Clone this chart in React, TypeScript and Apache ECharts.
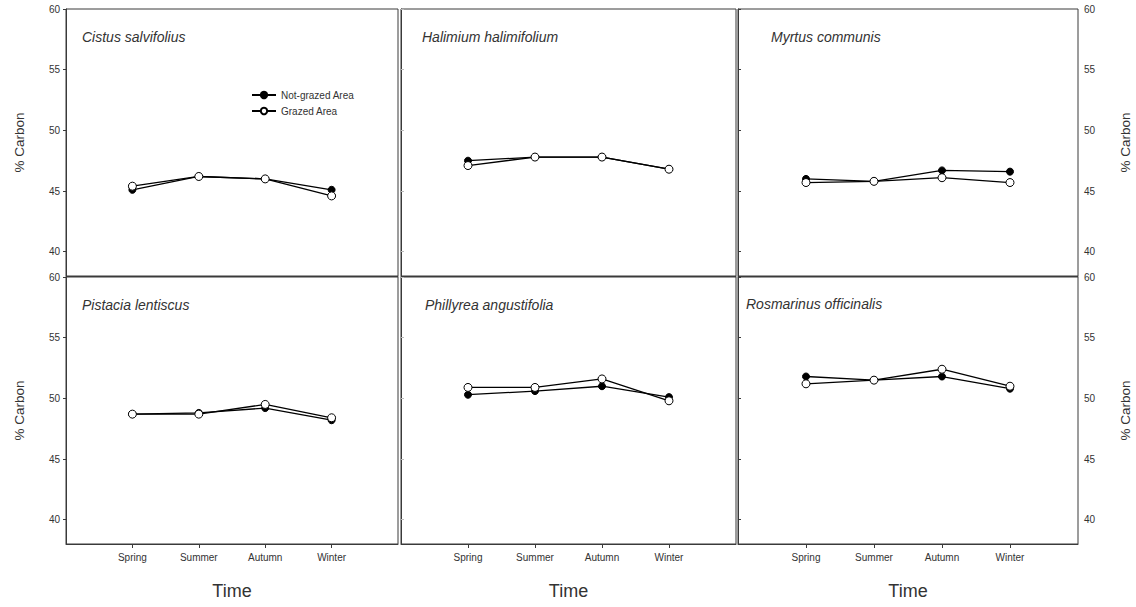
import React, { useEffect, useRef } from "react";
import * as echarts from "echarts";

const seasons = ["Spring", "Summer", "Autumn", "Winter"];
const seasonPos = [1, 2, 3, 4];
const yTicks = [40, 45, 50, 55, 60];

const speciesNames = [
  "Cistus salvifolius",
  "Halimium halimifolium",
  "Myrtus communis",
  "Pistacia lentiscus",
  "Phillyrea angustifolia",
  "Rosmarinus officinalis",
];

const cistusNotGrazed = [45.1, 46.2, 46.0, 45.1];
const cistusGrazed = [45.4, 46.2, 46.0, 44.6];
const halimiumNotGrazed = [47.5, 47.8, 47.8, 46.8];
const halimiumGrazed = [47.1, 47.8, 47.8, 46.8];
const myrtusNotGrazed = [46.0, 45.8, 46.7, 46.6];
const myrtusGrazed = [45.7, 45.8, 46.1, 45.7];
const pistaciaNotGrazed = [48.7, 48.8, 49.2, 48.2];
const pistaciaGrazed = [48.7, 48.7, 49.5, 48.4];
const phillyreaNotGrazed = [50.3, 50.6, 51.0, 50.1];
const phillyreaGrazed = [50.9, 50.9, 51.6, 49.8];
const rosmarinusNotGrazed = [51.8, 51.5, 51.8, 50.8];
const rosmarinusGrazed = [51.2, 51.5, 52.4, 51.0];

const notGrazedSets = [cistusNotGrazed, halimiumNotGrazed, myrtusNotGrazed, pistaciaNotGrazed, phillyreaNotGrazed, rosmarinusNotGrazed];
const grazedSets = [cistusGrazed, halimiumGrazed, myrtusGrazed, pistaciaGrazed, phillyreaGrazed, rosmarinusGrazed];

const FONT = "'Liberation Sans', Arial, sans-serif";
const AXIS_COLOR = "#3a3a3a";
const TEXT_COLOR = "#333";

export default function App() {
  const ref = useRef<HTMLDivElement>(null);

  useEffect(() => {
    if (!ref.current) return;
    const chart = echarts.init(ref.current, undefined, { renderer: "svg" });

    const cols = [
      { left: 66, width: 332 },
      { left: 401, width: 335 },
      { left: 738, width: 340 },
    ];
    const rows = [
      { top: 9, height: 267 },
      { top: 277, height: 267 },
    ];
    const titlePos = [
      { left: 82, top: 30 },
      { left: 422, top: 30 },
      { left: 771, top: 30 },
      { left: 82, top: 298 },
      { left: 425, top: 298 },
      { left: 746, top: 297 },
    ];

    const grids: any[] = [];
    const xAxes: any[] = [];
    const yAxes: any[] = [];
    const series: any[] = [];
    const titles: any[] = [];

    for (let i = 0; i < 6; i++) {
      const r = Math.floor(i / 3);
      const c = i % 3;
      grids.push({
        left: cols[c].left,
        width: cols[c].width,
        top: rows[r].top,
        height: rows[r].height,
        show: true,
        borderColor: AXIS_COLOR,
        borderWidth: 1,
        backgroundColor: "transparent",
      });
      const bottomRow = r === 1;
      xAxes.push({
        type: "value",
        gridIndex: i,
        min: 0,
        max: 5,
        position: "bottom",
        splitLine: { show: false },
        axisLine: { show: true, lineStyle: { color: AXIS_COLOR, width: 1 } },
        axisTick: {
          show: bottomRow,
          customValues: seasonPos,
          length: 4,
          lineStyle: { color: AXIS_COLOR },
        },
        axisLabel: {
          show: bottomRow,
          customValues: seasonPos,
          formatter: (v: number) => seasons[Math.round(v) - 1] ?? "",
          fontSize: 10,
          color: TEXT_COLOR,
          fontFamily: FONT,
          margin: 8,
        },
        name: bottomRow ? "Time" : "",
        nameLocation: "middle",
        nameGap: 38,
        nameTextStyle: { fontSize: 18, color: TEXT_COLOR, fontFamily: FONT },
      });
      const isLeft = c === 0;
      const isRight = c === 2;
      yAxes.push({
        type: "value",
        gridIndex: i,
        min: 38,
        max: 60,
        position: isRight ? "right" : "left",
        splitLine: { show: false },
        axisLine: { show: true, lineStyle: { color: AXIS_COLOR, width: 1 } },
        axisTick: {
          show: true,
          customValues: yTicks,
          length: 3,
          inside: !(isLeft || isRight),
          lineStyle: { color: isLeft || isRight ? AXIS_COLOR : "#bbb" },
        },
        axisLabel: {
          show: isLeft || isRight,
          customValues: yTicks,
          fontSize: 10,
          color: TEXT_COLOR,
          fontFamily: FONT,
          margin: 6,
        },
        name: isLeft || isRight ? "% Carbon" : "",
        nameLocation: "middle",
        nameGap: 40,
        nameRotate: 90,
        nameTextStyle: { fontSize: 13.5, color: TEXT_COLOR, fontFamily: FONT },
      });
      titles.push({
        text: speciesNames[i],
        left: titlePos[i].left,
        top: titlePos[i].top,
        padding: 0,
        textStyle: {
          fontSize: 14,
          fontStyle: "italic",
          fontWeight: "normal",
          color: TEXT_COLOR,
          fontFamily: FONT,
        },
      });
      series.push({
        name: "Not-grazed Area",
        type: "line",
        xAxisIndex: i,
        yAxisIndex: i,
        data: notGrazedSets[i].map((v, k) => [seasonPos[k], v]),
        symbol: "circle",
        symbolSize: 7,
        lineStyle: { color: "#000", width: 1.3 },
        itemStyle: { color: "#000", borderColor: "#000", borderWidth: 1 },
        z: 2,
      });
      series.push({
        name: "Grazed Area",
        type: "line",
        xAxisIndex: i,
        yAxisIndex: i,
        data: grazedSets[i].map((v, k) => [seasonPos[k], v]),
        symbol: "circle",
        symbolSize: 8,
        lineStyle: { color: "#000", width: 1.3 },
        itemStyle: { color: "#fff", borderColor: "#000", borderWidth: 1 },
        z: 3,
      });
    }

    chart.setOption({
      animation: false,
      backgroundColor: "#fff",
      title: titles,
      grid: grids,
      xAxis: xAxes,
      yAxis: yAxes,
      series,
      legend: {
        data: ["Not-grazed Area", "Grazed Area"],
        orient: "vertical",
        left: 251,
        top: 90,
        itemGap: 6,
        itemWidth: 24,
        itemHeight: 8,
        padding: 0,
        textStyle: { fontSize: 10, color: TEXT_COLOR, fontFamily: FONT },
      },
    });

    return () => chart.dispose();
  }, []);

  return (
    <div
      ref={ref}
      style={{ position: "fixed", left: 0, top: 0, width: 1136, height: 607, background: "#fff" }}
    />
  );
}
